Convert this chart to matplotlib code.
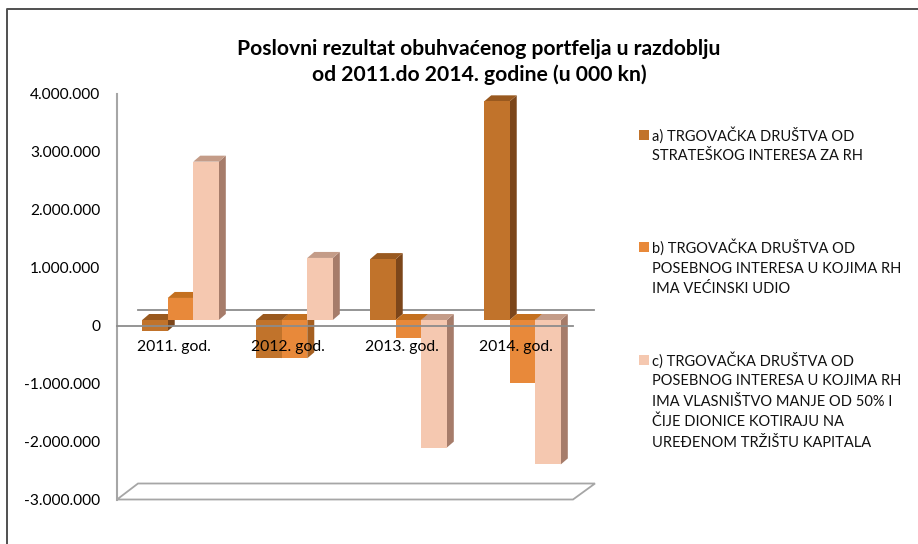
import matplotlib
matplotlib.use("Agg")
import matplotlib.pyplot as plt
from matplotlib.lines import Line2D
from matplotlib.patches import Polygon, Rectangle
from matplotlib.transforms import Affine2D, IdentityTransform

plt.rcParams['font.family'] = ['Lato', 'DejaVu Sans']

# -------------------------------
# data
# -------------------------------
years = ["2011. god.", "2012. god.", "2013. god.", "2014. god."]
series_a = [-190000, -660000, 1050000, 3770000]
series_b = [380000, -660000, -310000, -1080000]
series_c = [2730000, 1070000, -2200000, -2490000]
y_ticks = [-3000000, -2000000, -1000000, 0, 1000000, 2000000, 3000000, 4000000]
y_labels = ["-3.000.000", "-2.000.000", "-1.000.000", "0", "1.000.000", "2.000.000", "3.000.000", "4.000.000"]
title = "Poslovni rezultat obuhvaćenog portfelja u razdoblju\nod 2011.do 2014. godine (u 000 kn)"
legend_a = ["a) TRGOVAČKA DRUŠTVA OD", "STRATEŠKOG INTERESA ZA RH"]
legend_b = ["b) TRGOVAČKA DRUŠTVA OD", "POSEBNOG INTERESA U KOJIMA RH", "IMA VEĆINSKI UDIO"]
legend_c = ["c) TRGOVAČKA DRUŠTVA OD", "POSEBNOG INTERESA U KOJIMA RH",
            "IMA VLASNIŠTVO MANJE OD 50% I", "ČIJE DIONICE KOTIRAJU NA",
            "UREĐENOM TRŽIŠTU KAPITALA"]

W, H = 918, 544
front_cols = ["#C1732B", "#E8893A", "#F5C8B0"]
top_cols = ["#99591F", "#C4701F", "#C49C88"]
side_cols = ["#7C461A", "#A55F20", "#A67C6A"]
grey = "#A6A6A6"
pixels = IdentityTransform()

fig = plt.figure(figsize=(W / 100, H / 100), dpi=100, facecolor="white")

# only the top and left edges of the frame are in the picture
fig.add_artist(Line2D([6.5, 6.5, W], [0, H - 8.5, H - 8.5], transform=pixels, color="#505050", lw=1.4))

# front plane of the 3d box
ax = fig.add_axes([117 / W, 1 - 499.5 / H, 456 / W, 406 / H])
ax.set_xlim(0, 4)
ax.set_ylim(-3000000, 4000000)
ax.patch.set_visible(False)
for s in ["top", "right", "bottom"]:
    ax.spines[s].set_visible(False)
ax.spines["left"].set_color(grey)
ax.spines["left"].set_linewidth(1.5)
ax.set_xticks([])
ax.set_yticks(y_ticks)
ax.set_yticklabels(y_labels, fontsize=11.2, color="black")
ax.tick_params(axis="y", length=0, pad=12)

back = ax.transData + Affine2D().translate(21, 16)
bars = ax.transData + Affine2D().translate(6.5, 5.5)
bar_w = 0.224
depth_x, depth_y = 7, 6


def add_face(points, color, z, edge="none"):
    ax.add_artist(Polygon(points, closed=True, transform=pixels, fc=color, ec=edge, lw=1.3, zorder=z,
                          clip_on=False))


# floor
x_l, y_l = ax.transData.transform((0, -3000000))
x_r, _ = ax.transData.transform((4, -3000000))
add_face([(x_l, y_l), (x_r, y_l), (x_r + 22, y_l + 16), (x_l + 21, y_l + 16)], "white", 1, edge=grey)

# zero line on the back wall
ax.plot([0, 4], [0, 0], color="#8C8C8C", lw=1.3, transform=back, zorder=2, clip_on=False)


def draw_bar(x, val, i, z):
    x0, y0 = bars.transform((x, 0))
    x1, y1 = bars.transform((x + bar_w, val))
    top_y = max(y0, y1)
    bot_y = min(y0, y1)
    add_face([(x1, bot_y), (x1 + depth_x, bot_y + depth_y), (x1 + depth_x, top_y + depth_y), (x1, top_y)],
             side_cols[i], z)
    add_face([(x0, top_y), (x1, top_y), (x1 + depth_x, top_y + depth_y), (x0 + depth_x, top_y + depth_y)],
             top_cols[i], z)
    ax.bar(x, val, width=bar_w, align="edge", color=front_cols[i], transform=bars, zorder=z + 0.1,
           clip_on=False)


z = 3
for g in range(4):
    start = g + 0.5 - 1.5 * bar_w
    for i, vals in enumerate([series_a, series_b, series_c]):
        draw_bar(start + i * bar_w, vals[g], i, z)
        z += 1

# front zero line goes over the bars
ax.plot([0, 4], [0, 0], color="#8C8C8C", lw=1.3, zorder=50, clip_on=False)

# category labels
for g, lab in enumerate(years):
    ax.annotate(lab, (g + 0.5, 0), xytext=(0, -22), textcoords="offset pixels", ha="center", va="center",
                fontsize=11.3, color="black", zorder=60)

fig.text(479 / W, 1 - 62 / H, title, ha="center", va="center", fontsize=15.2, fontweight="bold",
         color="black", linespacing=1.3)

# legend written by hand, one line per row
legend_rows = [(legend_a, [135, 156]), (legend_b, [247, 269, 289]), (legend_c, [360, 381, 402, 422, 443])]
for i, (lines, rows) in enumerate(legend_rows):
    fig.add_artist(Rectangle((639, H - rows[0] - 5), 10, 10, transform=pixels, fc=front_cols[i], ec="none"))
    for line, row in zip(lines, rows):
        fig.text(652 / W, 1 - row / H, line, ha="left", va="center", fontsize=10.5, color="#111111")

fig.savefig("out.png", dpi=100)
